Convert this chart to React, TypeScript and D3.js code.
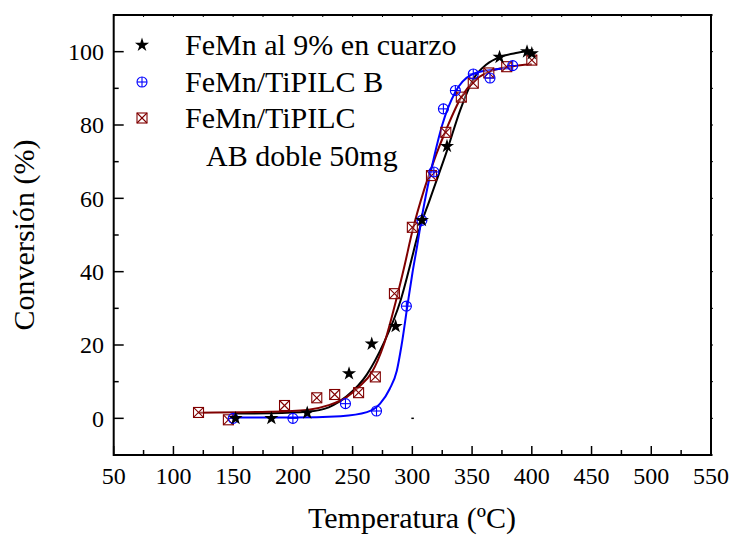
import React from "react";
import * as d3 from "d3";

// ---- data ----
const starPts: [number, number][] = [
  [152, 0], [182, 0], [212, 1.5], [247, 12.2], [266, 20.3], [286, 25.1],
  [308, 54], [329, 74.2], [373, 98.5], [396, 100], [400, 99.5],
];
const bluePts: [number, number][] = [
  [150, 0], [200, 0], [244, 4], [270, 2], [295, 30.6], [308, 54],
  [318, 67.2], [326, 84.4], [336, 89.4], [351, 93.9], [365, 92.8], [384, 96.2],
];
const redPts: [number, number][] = [
  [121, 1.6], [146, -0.4], [193, 3.5], [220, 5.6], [235, 6.5], [255, 7],
  [269, 11.3], [285, 34], [300, 52.1], [316, 66.2], [328, 78], [341, 87.6],
  [351, 91.4], [364, 94.2], [379, 95.9], [400, 97.7],
];
const strayPts: [number, number][] = [[300, 0]];

// fitted curves
const blackFit: [number, number][] = [
  [150, 1.3], [180, 1.4], [212, 1.8], [230, 3], [245, 6], [262, 12], [276, 20.5],
  [290, 32], [301, 45.5], [304, 49.4], [315, 60], [329, 73], [340, 84], [351, 92.5],
  [362, 96.5], [374, 98.6], [388, 99.7], [399, 100.3],
];
const blueFit: [number, number][] = [
  [150, 0.2], [200, 0.2], [240, 0.6], [262, 1.7], [273, 4], [281, 8], [287, 13],
  [291, 20], [296, 31], [300, 39.5], [304, 47], [308, 55], [313, 63.5], [318, 71],
  [325, 80], [336, 89], [350, 93.8], [365, 95], [383, 95.5],
];
const redFit: [number, number][] = [
  [121, 1.55], [180, 1.8], [212, 2.3], [230, 3.6], [245, 5.8], [256, 8.8],
  [266, 12.5], [276, 20], [287, 33], [293, 41], [300, 51], [310, 62.5], [320, 72],
  [328, 78.5], [341, 87.6], [351, 91.8], [364, 94.5], [379, 95.8], [400, 96.6],
];

const xTicks = [50, 100, 150, 200, 250, 300, 350, 400, 450, 500, 550];
const yTicks = [0, 20, 40, 60, 80, 100];
const legendLabels = ["FeMn al 9% en cuarzo", "FeMn/TiPILC B", "FeMn/TiPILC", "AB doble 50mg"];
const xTitle = "Temperatura (ºC)";
const yTitle = "Conversión (%)";

const BLUE = "#0000ff";
const RED = "#800000";
const FONT = "'Liberation Serif', 'Times New Roman', serif";

export default function App() {
  const W = 734, H = 536;
  const L = 113.7, R = 711, T = 15, B = 455;
  const x = d3.scaleLinear().domain([50, 550]).range([L, R]);
  const y = d3.scaleLinear().domain([-10, 110]).range([B, T]);
  const line = d3.line<[number, number]>()
    .x((d) => x(d[0])).y((d) => y(d[1]))
    .curve(d3.curveMonotoneX);
  const star = d3.symbol().type(d3.symbolStar).size(62)()!;

  const xMinor = d3.range(75, 550, 50);
  const yMinor = d3.range(-10, 110, 20);
  const topTicks = d3.range(50, 551, 25);
  const rightTicks = d3.range(-10, 111, 10);

  const Plus = ({ cx, cy }: { cx: number; cy: number }) => (
    <g stroke={BLUE} strokeWidth={1.1} fill="none">
      <circle cx={cx} cy={cy} r={5} />
      <line x1={cx - 5} x2={cx + 5} y1={cy} y2={cy} />
      <line x1={cx} x2={cx} y1={cy - 5} y2={cy + 5} />
    </g>
  );
  const Box = ({ cx, cy }: { cx: number; cy: number }) => (
    <g stroke={RED} strokeWidth={1.1} fill="none">
      <rect x={cx - 5} y={cy - 5} width={10} height={10} fill="#fff" fillOpacity={0.3} />
      <line x1={cx - 5} x2={cx + 5} y1={cy - 5} y2={cy + 5} />
      <line x1={cx - 5} x2={cx + 5} y1={cy + 5} y2={cy - 5} />
    </g>
  );

  return (
    <svg width={W} height={H} style={{ position: "absolute", left: 0, top: 0, background: "#fff" }}
      fontFamily={FONT}>
      <rect width={W} height={H} fill="#fff" />
      {/* curves */}
      <path d={line(blackFit)!} fill="none" stroke="#000" strokeWidth={2} />
      <path d={line(redFit)!} fill="none" stroke={RED} strokeWidth={2} />
      <path d={line(blueFit)!} fill="none" stroke={BLUE} strokeWidth={2} />
      {/* markers */}
      {redPts.map((d, i) => <Box key={"r" + i} cx={x(d[0])} cy={y(d[1])} />)}
      {bluePts.map((d, i) => <Plus key={"b" + i} cx={x(d[0])} cy={y(d[1])} />)}
      {starPts.map((d, i) => (
        <path key={"s" + i} d={star} transform={`translate(${x(d[0])},${y(d[1])})`} fill="#000" />
      ))}
      {strayPts.map((d, i) => (
        <line key={"st" + i} x1={x(d[0]) - 1} x2={x(d[0]) + 1.5} y1={y(d[1])} y2={y(d[1])} stroke="#000" strokeWidth={1.5} />
      ))}
      {/* frame */}
      <rect x={L} y={T} width={R - L} height={B - T} fill="none" stroke="#000" strokeWidth={2} />
      {/* bottom ticks */}
      {xTicks.map((t) => (
        <g key={"xt" + t}>
          <line x1={x(t)} x2={x(t)} y1={B} y2={B - 9} stroke="#000" strokeWidth={1.5} />
          <text x={x(t)} y={484} fontSize={24} textAnchor="middle">{t}</text>
        </g>
      ))}
      {xMinor.map((t) => (
        <line key={"xm" + t} x1={x(t)} x2={x(t)} y1={B} y2={B - 5} stroke="#000" strokeWidth={1.5} />
      ))}
      {topTicks.map((t) => (
        <line key={"tt" + t} x1={x(t)} x2={x(t)} y1={T} y2={T + 2} stroke="#000" strokeWidth={1} />
      ))}
      {/* left ticks */}
      {yTicks.map((t) => (
        <g key={"yt" + t}>
          <line x1={L} x2={L + 10} y1={y(t)} y2={y(t)} stroke="#000" strokeWidth={1.5} />
          <text x={104} y={y(t)} dy="0.35em" fontSize={24} textAnchor="end">{t}</text>
        </g>
      ))}
      {yMinor.map((t) => (
        <line key={"ym" + t} x1={L} x2={L + 5} y1={y(t)} y2={y(t)} stroke="#000" strokeWidth={1.5} />
      ))}
      {rightTicks.map((t) => (
        <line key={"rt" + t} x1={R} x2={R + 2} y1={y(t)} y2={y(t)} stroke="#000" strokeWidth={1} />
      ))}
      {/* axis titles */}
      <text x={412} y={528} fontSize={30} textAnchor="middle">{xTitle}</text>
      <text transform="translate(34,235) rotate(-90)" fontSize={30} textAnchor="middle">{yTitle}</text>
      {/* legend */}
      <path d={star} transform="translate(142,45)" fill="#000" />
      <Plus cx={142} cy={82} />
      <Box cx={142} cy={118} />
      <text x={185} y={55} fontSize={30}>{legendLabels[0]}</text>
      <text x={185} y={92} fontSize={30}>{legendLabels[1]}</text>
      <text x={185} y={128} fontSize={30}>{legendLabels[2]}</text>
      <text x={206} y={166} fontSize={30}>{legendLabels[3]}</text>
    </svg>
  );
}
